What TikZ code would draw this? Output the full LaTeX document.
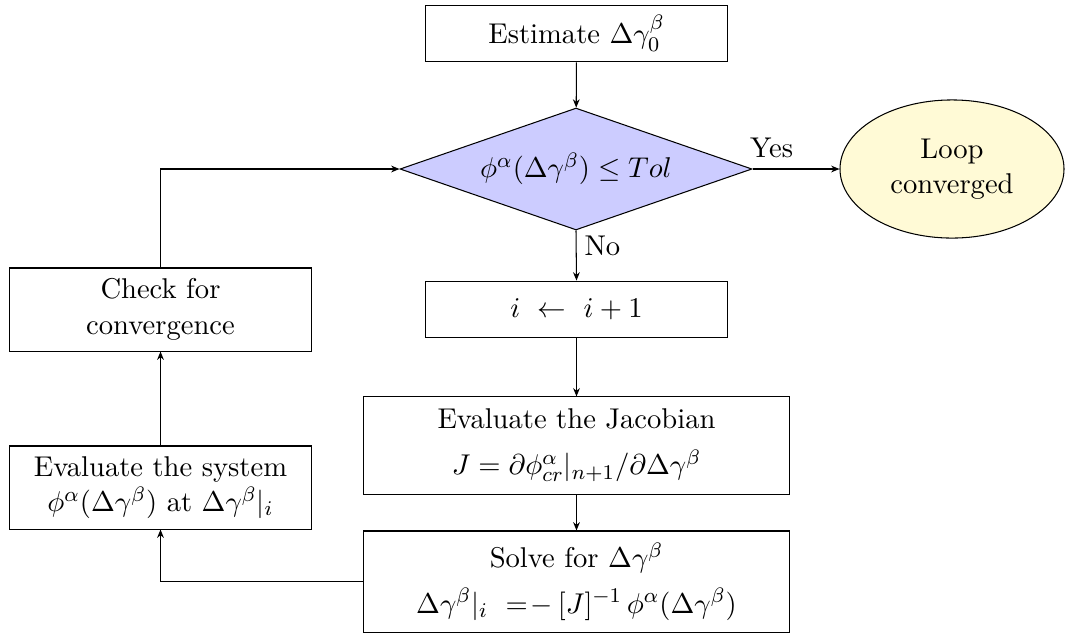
\documentclass[tikz,border=0pt]{standalone}
\usetikzlibrary{shapes.geometric,arrows.meta}
\definecolor{termfill}{RGB}{255,250,214}
\begin{document}
\begin{tikzpicture}[x=0.383pt,y=-0.383pt,
  every node/.style={font=\fontsize{10.95}{13.6}\selectfont},
  box/.style={draw,rectangle,align=center,inner sep=0pt},
  dec/.style={draw,diamond,aspect=2.9,fill=blue!20,inner sep=0pt,minimum width=134.8pt,minimum height=46.7pt},
  term/.style={draw,ellipse,fill=termfill,align=center,inner sep=0pt,minimum width=85.8pt,minimum height=52.9pt},
  arr/.style={-{Stealth[length=3.2pt,width=2.6pt]}},
  lbl/.style={inner sep=0pt}]
\useasboundingbox (0,0) rectangle (1066,637);
\node[box,minimum width=116pt,minimum height=21.8pt] (est) at (576.5,33.5) {Estimate $\Delta\gamma_0^\beta$};
\node[dec] (dec) at (576,169) {$\phi^\alpha(\Delta\gamma^\beta) \leq Tol$};
\node[term] (conv) at (952,169) {Loop\\converged};
\node[box,minimum width=116pt,minimum height=21.8pt] (inc) at (576.5,309.5) {$i\ \leftarrow\ i+1$};
\node[box,minimum width=163.5pt,minimum height=37.2pt] (jac) at (576.5,445.5) {Evaluate the Jacobian\\[4pt] $J=\partial\phi^\alpha_{cr}|_{n+1}/\partial\Delta\gamma^\beta$};
\node[box,minimum width=163.5pt,minimum height=38.7pt] (solve) at (576.5,581.5) {Solve for $\Delta\gamma^\beta$\\[4pt] $\Delta\gamma^\beta|_i\ =\!-\,[J]^{-1}\,\phi^\alpha(\Delta\gamma^\beta)$};
\node[box,minimum width=116pt,minimum height=31.8pt] (sys) at (160.5,487.5) {Evaluate the system\\ $\phi^\alpha(\Delta\gamma^\beta)$ at $\Delta\gamma^\beta|_i$};
\node[box,minimum width=116pt,minimum height=31.8pt] (chk) at (160.5,309.5) {Check for\\ convergence};
\draw[arr] (est) -- (dec);
\draw[arr] (dec.east) -- node[lbl,above,pos=0.22,yshift=4pt] {Yes} (conv.west);
\draw[arr] (dec.south) -- node[lbl,right,pos=0.3,xshift=3pt] {No} (inc.north);
\draw[arr] (inc) -- (jac);
\draw[arr] (jac) -- (solve);
\draw[arr] (solve.west) -| (sys.south);
\draw[arr] (sys) -- (chk);
\draw[arr] (chk.north) |- (dec.west);
\end{tikzpicture}
\end{document}
